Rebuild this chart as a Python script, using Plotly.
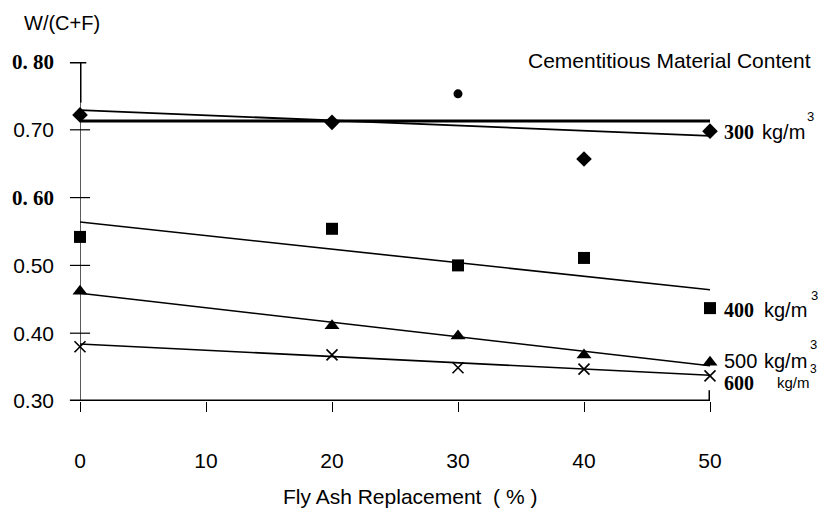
import plotly.graph_objects as go

# ---- data ----
fly_ash = [0, 20, 30, 40, 50]
s300_x = [0, 20, 40, 50]
s300_y = [0.722, 0.711, 0.657, 0.698]
s300_extra_x = [30]
s300_extra_y = [0.753]
s400_y = [0.542, 0.554, 0.500, 0.511, 0.437]
s500_y = [0.462, 0.411, 0.396, 0.368, 0.357]
s600_y = [0.380, 0.368, 0.349, 0.347, 0.337]

fit_x = [0, 50]
fit300 = [0.729, 0.691]
fit300_flat = [0.713, 0.713]
fit400 = [0.564, 0.464]
fit500 = [0.459, 0.352]
fit600 = [0.384, 0.338]

x_ticks = [0, 10, 20, 30, 40, 50]
y_ticks = [0.3, 0.4, 0.5, 0.6, 0.7, 0.8]
SERIF = "Liberation Serif"
y_ticktext = ["0.30", "0.40", "0.50",
              f"<span style='font-family:{SERIF}'><b>0. 60</b></span>",
              "0.70",
              f"<span style='font-family:{SERIF}'><b>0. 80</b></span>"]

SANS = "Liberation Sans"
NARROW = "Liberation Sans Narrow, Liberation Sans"
BLACK = "#000000"

fig = go.Figure()

def line(y, w=1.6):
    fig.add_trace(go.Scatter(x=fit_x, y=y, mode="lines",
                             line=dict(color=BLACK, width=w), hoverinfo="skip",
                             showlegend=False, cliponaxis=False))

line(fit300, 1.8)
line(fit300_flat, 3.2)
line(fit400)
line(fit500)
line(fit600)

def pts(x, y, sym, size):
    fig.add_trace(go.Scatter(x=x, y=y, mode="markers", cliponaxis=False, showlegend=False,
                             marker=dict(symbol=sym, size=size, color=BLACK,
                                         line=dict(color=BLACK, width=1.6 if "x" in sym else 0))))

pts(s300_x, s300_y, "diamond", 12)
pts(s300_extra_x, s300_extra_y, "circle", 9)
pts(fly_ash, s400_y, "square", 12)
pts(fly_ash, s500_y, "triangle-up", 13)
pts(fly_ash, s600_y, "x-thin", 11)

# axis decorations
shapes = []
shapes.append(dict(type="line", xref="x", yref="y", x0=0, x1=0, y0=0.29, y1=0.74,
                   line=dict(color=BLACK, width=1.3)))
shapes.append(dict(type="line", xref="x", yref="y", x0=0, x1=0, y0=0.74, y1=0.8,
                   line=dict(color=BLACK, width=3)))
shapes.append(dict(type="line", xref="paper", yref="y", x0=-0.016, x1=0.01, y0=0.8, y1=0.8,
                   line=dict(color=BLACK, width=3)))
for t in y_ticks[1:-1]:
    shapes.append(dict(type="line", xref="paper", yref="y", x0=-0.016, x1=0.016, y0=t, y1=t,
                       line=dict(color=BLACK, width=1.2)))
shapes.append(dict(type="line", xref="paper", yref="y", x0=-0.016, x1=1.0, y0=0.3, y1=0.3,
                   line=dict(color=BLACK, width=3.2)))
shapes.append(dict(type="line", xref="x", yref="y", x0=50, x1=50, y0=0.284, y1=0.316,
                   line=dict(color=BLACK, width=3)))
fig.update_layout(shapes=shapes)

ann = []
def A(text, x, y, xref="paper", yref="paper", xanchor="left", size=20, family=SANS, yanchor="middle"):
    ann.append(dict(text=text, x=x, y=y, xref=xref, yref=yref, xanchor=xanchor, yanchor=yanchor,
                    showarrow=False, font=dict(family=family, size=size, color=BLACK)))

A("W/(C+F)", -0.0916, 1.115, size=20)
A("Cementitious Material Content", 1.163, 1.003, xanchor="right", size=21)
A("Fly Ash Replacement  ( % )", 0.524, -0.283, xanchor="center", size=21)

# right-hand series labels
A("<b>300</b>", 1.019, 0.697, yref="y", size=20, family=SERIF)
A("kg/m", 1.079, 0.697, yref="y", size=20)
A("3", 1.150, 0.720, yref="y", size=13)
A("<b>400</b>", 1.019, 0.434, yref="y", size=20, family=SERIF)
A("kg/m", 1.082, 0.434, yref="y", size=20)
A("3", 1.157, 0.456, yref="y", size=13)
A("500", 1.019, 0.359, yref="y", size=20)
A("kg/m", 1.082, 0.359, yref="y", size=20)
A("3", 1.155, 0.384, yref="y", size=13)
A("3", 1.156, 0.347, yref="y", size=12)
A("<b>600</b>", 1.019, 0.327, yref="y", size=20, family=SERIF)
A("kg/m", 1.103, 0.327, yref="y", size=15, family=NARROW)
fig.update_layout(annotations=ann)

fig.update_layout(
    width=819, height=511,
    margin=dict(l=77, r=109, t=62, b=110),
    plot_bgcolor="white", paper_bgcolor="white",
    xaxis=dict(range=[0, 50], tickvals=x_ticks, ticktext=[str(v) for v in x_ticks],
               showgrid=False, zeroline=False, showline=False,
               ticks="outside", ticklen=10, tickwidth=1, tickcolor=BLACK,
               ticklabelstandoff=31,
               tickfont=dict(family=NARROW, size=21, color=BLACK)),
    yaxis=dict(range=[0.3, 0.8], tickvals=y_ticks, ticktext=y_ticktext,
               showgrid=False, zeroline=False, showline=False, ticks="",
               ticklabelstandoff=25,
               tickfont=dict(family=SANS, size=21, color=BLACK)),
)

fig.write_html("out.html")
